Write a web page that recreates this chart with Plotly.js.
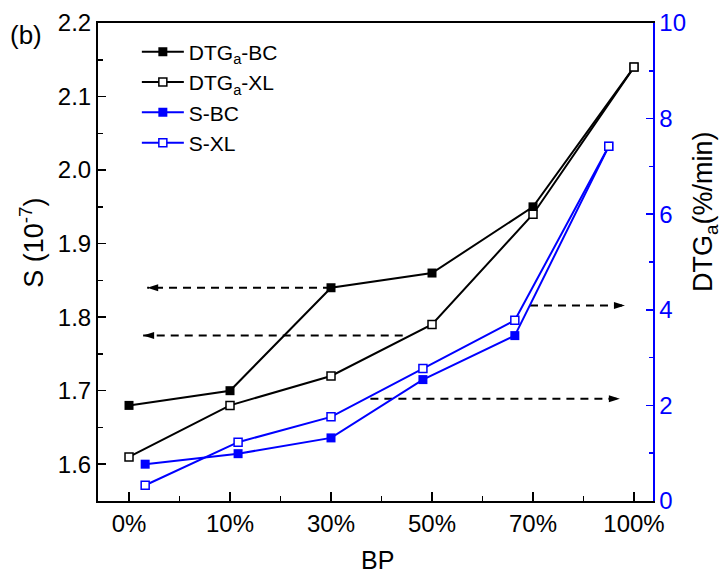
<!DOCTYPE html>
<html>
<head>
<meta charset="utf-8">
<script src="https://cdn.plot.ly/plotly-3.0.1.min.js"></script>
<style>
  html, body { margin: 0; padding: 0; background: #fff; }
  #chart { width: 721px; height: 578px; }
</style>
</head>
<body>
<div id="chart"></div>
<script>
// BP content categories
const bpLabels = ['0%', '10%', '30%', '50%', '70%', '100%'];
const bpIndex = [0, 1, 2, 3, 4, 5];
// S series are plotted slightly shifted along the category axis
const sIndex = [0.16, 1.08, 2.0, 2.91, 3.82, 4.75];

// left axis series
const dtgBC = [1.68, 1.70, 1.84, 1.86, 1.95, 2.14];
const dtgXL = [1.61, 1.68, 1.72, 1.79, 1.94, 2.14];
// right axis series
const sBC = [0.77, 0.99, 1.32, 2.54, 3.46, 7.42];
const sXL = [0.33, 1.23, 1.76, 2.77, 3.78, 7.42];

// dashed guide arrows pointing to the axis each group is read from
const guideArrows = [
  { from: 2.0,  to: 0.18, y: 1.84,  axis: 'y'  },
  { from: 2.71, to: 0.14, y: 1.775, axis: 'y'  },
  { from: 3.97, to: 4.91, y: 4.09,  axis: 'y2' },
  { from: 2.39, to: 4.86, y: 2.14,  axis: 'y2' }
];

const BLUE = '#0000ff';
const FONT = '"Liberation Sans", Arial, Helvetica, sans-serif';

function series(name, group, x, y, color, filled, yaxis) {
  return {
    type: 'scatter', mode: 'lines+markers', name: name, legendgroup: group,
    x: x, y: y, yaxis: yaxis,
    line: { color: color, width: 2 },
    marker: {
      symbol: 'square', size: filled ? 9 : 8,
      color: filled ? color : '#ffffff',
      line: { color: color, width: filled ? 0 : 1.5 }
    }
  };
}

const traces = [
  series('DTG<sub>a</sub>-BC', 'g1', bpIndex, dtgBC, '#000000', true, 'y'),
  series('DTG<sub>a</sub>-XL', 'g2', bpIndex, dtgXL, '#000000', false, 'y'),
  series('S-BC', 'g3', sIndex, sBC, BLUE, true, 'y2'),
  series('S-XL', 'g4', sIndex, sXL, BLUE, false, 'y2')
];

const shapes = [];
guideArrows.forEach(a => {
  const yref = a.axis;
  shapes.push({
    type: 'line', xref: 'x', yref: yref, x0: a.from, x1: a.to, y0: a.y, y1: a.y,
    line: { color: '#000', width: 2, dash: '8px,6px' }, layer: 'below'
  });
  const dir = a.to < a.from ? 1 : -1;
  shapes.push({
    type: 'path', xref: 'x', yref: yref, xsizemode: 'pixel', ysizemode: 'pixel',
    xanchor: a.to, yanchor: a.y,
    path: 'M0,0L' + (11 * dir) + ',3.5L' + (11 * dir) + ',-3.5Z',
    fillcolor: '#000', line: { width: 0 }
  });
});

const layout = {
  width: 721, height: 578,
  margin: { l: 98, r: 68, t: 23, b: 77 },
  paper_bgcolor: '#fff', plot_bgcolor: '#fff',
  showlegend: true,
  legend: {
    x: 0.07, y: 0.982, xanchor: 'left', yanchor: 'top',
    bgcolor: 'rgba(0,0,0,0)', borderwidth: 0,
    font: { family: FONT, size: 21, color: '#000' },
    itemwidth: 42, tracegroupgap: 0
  },
  xaxis: {
    range: [-0.307, 5.188],
    tickmode: 'array', tickvals: bpIndex, ticktext: bpLabels,
    ticks: 'inside', ticklen: 9, tickwidth: 1.5, tickcolor: '#000',
    minor: { tickmode: 'array', tickvals: [0.5, 1.5, 2.5, 3.5, 4.5], ticks: 'inside', ticklen: 5, tickwidth: 1.5, tickcolor: '#000' },
    showline: true, linewidth: 2, linecolor: '#000', mirror: true,
    showgrid: false, zeroline: false,
    tickfont: { family: FONT, size: 24, color: '#000' }
  },
  yaxis: {
    range: [1.55, 2.2], tickmode: 'linear', tick0: 0, dtick: 0.1, tickformat: '.1f',
    ticks: 'inside', ticklen: 8, tickwidth: 1.5, tickcolor: '#000',
    minor: { dtick: 0.05, ticks: 'inside', ticklen: 5, tickwidth: 1.5, tickcolor: '#000' },
    showline: true, linewidth: 2, linecolor: '#000',
    showgrid: false, zeroline: false,
    tickfont: { family: FONT, size: 24, color: '#000' }
  },
  yaxis2: {
    overlaying: 'y', side: 'right', anchor: 'x',
    range: [0, 10], tickmode: 'linear', tick0: 0, dtick: 2,
    ticks: 'inside', ticklen: 7, tickwidth: 1.5, tickcolor: BLUE,
    minor: { dtick: 1, ticks: 'inside', ticklen: 4, tickwidth: 1.5, tickcolor: BLUE },
    showline: true, linewidth: 1.5, linecolor: BLUE,
    showgrid: false, zeroline: false,
    tickfont: { family: FONT, size: 24, color: BLUE }
  },
  shapes: shapes,
  annotations: [
    { text: '(b)', xref: 'paper', yref: 'paper', x: -0.13, y: 0.975, xanchor: 'center', yanchor: 'middle',
      showarrow: false, font: { family: FONT, size: 26, color: '#000' } },
    { text: 'S (10<sup>-7</sup>)', xref: 'paper', yref: 'paper', x: -0.119, y: 0.54, textangle: -90,
      xanchor: 'center', yanchor: 'middle', showarrow: false, font: { family: FONT, size: 27, color: '#000' } },
    { text: 'DTG<sub>a</sub>(%/min)', xref: 'paper', yref: 'paper', x: 1.094, y: 0.605, textangle: -90,
      xanchor: 'center', yanchor: 'middle', showarrow: false, font: { family: FONT, size: 27, color: '#000' } },
    { text: 'BP', xref: 'paper', yref: 'paper', x: 0.5045, y: -0.123, xanchor: 'center', yanchor: 'middle',
      showarrow: false, font: { family: FONT, size: 25, color: '#000' } }
  ]
};

Plotly.newPlot('chart', traces, layout, { displayModeBar: false, staticPlot: true });
</script>
</body>
</html>
